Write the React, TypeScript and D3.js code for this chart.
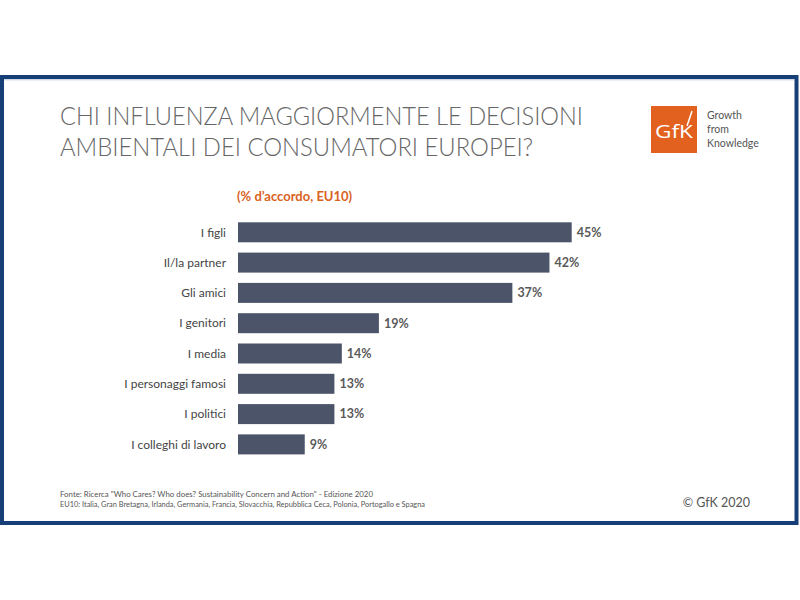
import React from "react";
import * as d3 from "d3";

const categories = [
  "I figli",
  "Il/la partner",
  "Gli amici",
  "I genitori",
  "I media",
  "I personaggi famosi",
  "I politici",
  "I colleghi di lavoro",
];
const values = [45, 42, 37, 19, 14, 13, 13, 9];
const titleLines = [
  "CHI INFLUENZA MAGGIORMENTE LE DECISIONI",
  "AMBIENTALI DEI CONSUMATORI EUROPEI?",
];
const subtitle = "(% d’accordo, EU10)";
const footerLines = [
  "Fonte: Ricerca \"Who Cares? Who does? Sustainability Concern and Action\" - Edizione 2020",
  "EU10: Italia, Gran Bretagna, Irlanda, Germania, Francia, Slovacchia, Repubblica Ceca, Polonia, Portogallo e Spagna",
];
const logoLines = ["Growth", "from", "Knowledge"];

export default function App() {
  const x = d3.scaleLinear().domain([0, 45]).range([238, 571.7]);
  const y = d3
    .scaleBand<string>()
    .domain(categories)
    .range([212, 464.7])
    .paddingInner(0.34)
    .paddingOuter(0.34);
  const navy = "#163f78";
  const barColor = "#4b5468";
  const orange = "#d9621c";
  return (
    <svg
      width={800}
      height={600}
      style={{ position: "absolute", left: 0, top: 0, background: "#fff" }}
      fontFamily="Lato, 'Open Sans', sans-serif"
    >
      <rect x={0} y={0} width={800} height={600} fill="#fff" />
      {/* frame */}
      <rect x={2} y={77} width={794.5} height={446} fill="none" stroke={navy} strokeWidth={4} />
      <line x1={4} x2={794} y1={79.8} y2={79.8} stroke="#b9c8de" strokeWidth={1} />
      {/* title */}
      {titleLines.map((t, i) => (
        <text
          key={i}
          x={60}
          y={125 + i * 31}
          fontSize={24.5}
          fontWeight={300}
          fill="#666"
          textLength={i === 0 ? 523 : 473}
          lengthAdjust="spacingAndGlyphs"
        >
          {t}
        </text>
      ))}
      {/* logo */}
      <rect x={651} y={106} width={46} height={47} fill="#e2611f" />
      <text x={655} y={138} fontSize={19} fill="#fff" fontFamily="'Open Sans', sans-serif" textLength={38} lengthAdjust="spacingAndGlyphs">
        GfK
      </text>
      <line x1={687} x2={692} y1={126} y2={111} stroke="#fff" strokeWidth={1.5} />
      {logoLines.map((t, i) => (
        <text key={i} x={707} y={119 + i * 14} fontSize={10.5} fill="#555">
          {t}
        </text>
      ))}
      {/* subtitle */}
      <text x={237} y={201} fontSize={13} fontWeight={700} fill={orange}>
        {subtitle}
      </text>
      {/* bars */}
      {categories.map((c, i) => {
        const y0 = y(c) as number;
        const bw = y.bandwidth();
        return (
          <g key={c}>
            <rect x={x(0)} y={y0} width={x(values[i]) - x(0)} height={bw} fill={barColor} />
            <text
              x={226}
              y={y0 + bw / 2}
              dy="0.35em"
              textAnchor="end"
              fontSize={12}
              fill="#444"
            >
              {c}
            </text>
            <text
              x={x(values[i]) + 5}
              y={y0 + bw / 2}
              dy="0.35em"
              fontSize={12.5}
              fontWeight={700}
              fill="#5a5a5a"
            >
              {values[i]}%
            </text>
          </g>
        );
      })}
      {/* footer */}
      {footerLines.map((t, i) => (
        <text
          key={i}
          x={60}
          y={497 + i * 9.5}
          fontSize={7}
          fill="#555"
          textLength={i === 0 ? 313 : 365}
          lengthAdjust="spacingAndGlyphs"
        >
          {t}
        </text>
      ))}
      <text x={750} y={507} textAnchor="end" fontSize={12.5} fill="#555">
        © GfK 2020
      </text>
    </svg>
  );
}
